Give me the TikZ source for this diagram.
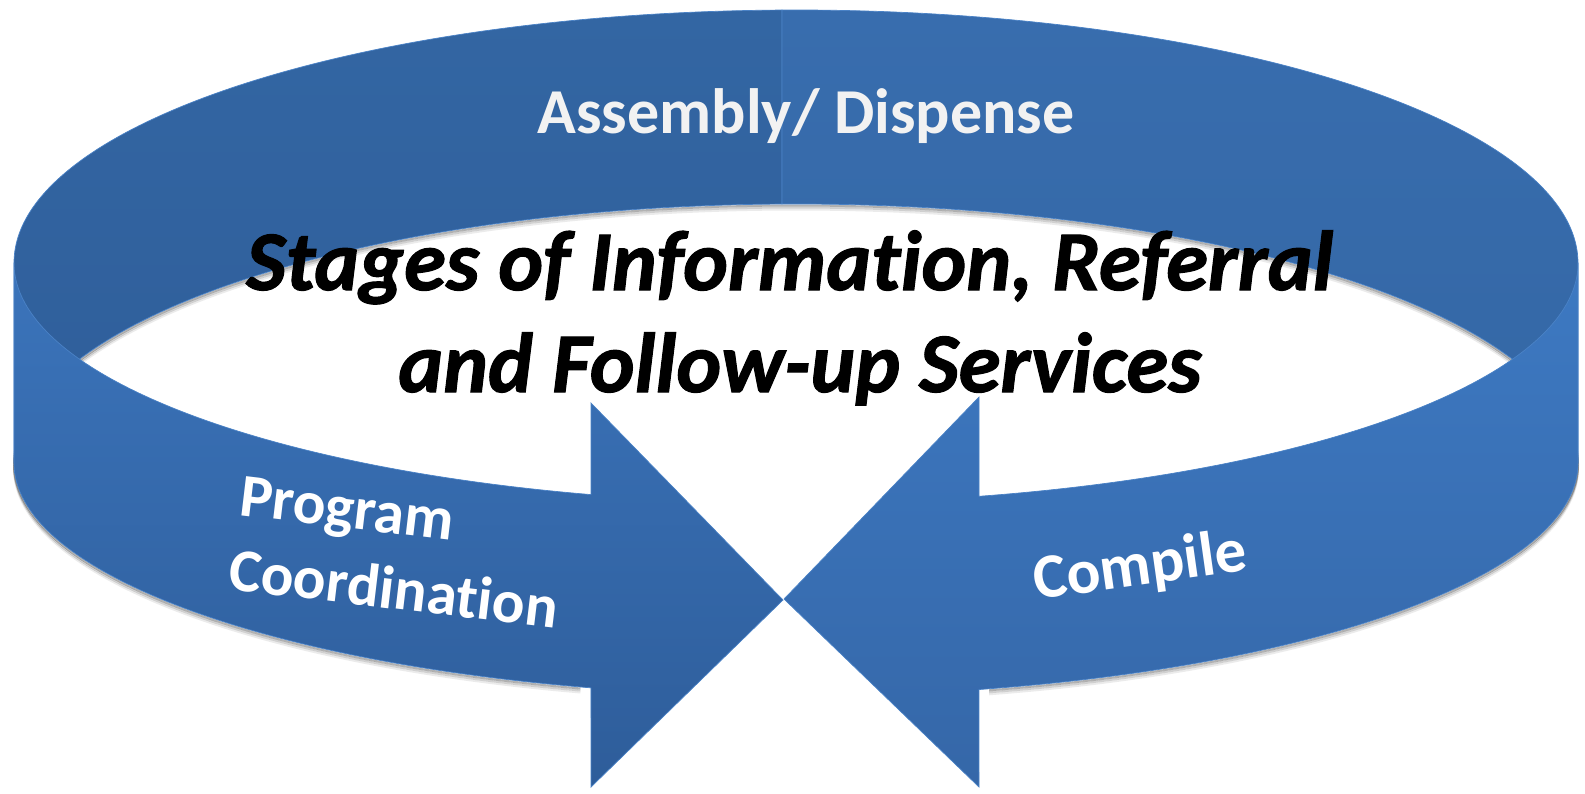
\documentclass[tikz,border=0pt]{standalone}
\usepackage{fontspec}
\setmainfont{Carlito}[Ligatures={NoCommon}]
\newfontfamily\ttlfont{Carlito}[Ligatures={NoCommon}, BoldItalicFeatures={FakeBold=1.3}]
\definecolor{backLt}{HTML}{3366A3}
\definecolor{backLb}{HTML}{2F5E9A}
\definecolor{backRt}{HTML}{386DAE}
\definecolor{backRb}{HTML}{3467A5}
\definecolor{frontLt}{HTML}{3B74BB}
\definecolor{frontLb}{HTML}{2E5D9A}
\definecolor{frontRt}{HTML}{3D79C2}
\definecolor{frontRb}{HTML}{3567A8}
\definecolor{edgeblue}{HTML}{4A82C6}
\definecolor{labelwhite}{HTML}{F2F2F2}
\begin{document}
\begin{tikzpicture}[x=1pt,y=1pt,
  wlabel/.style={text=white, font=\fontsize{61}{73}\selectfont\bfseries, inner sep=0pt},
  ttl/.style={font=\fontsize{85}{100}\selectfont\ttlfont\bfseries\itshape, inner sep=0pt},
  rim/.style={draw=edgeblue, line width=0.7pt},
  shadowline/.style={black, line width=2pt}]
\useasboundingbox (0,0) rectangle (1585,-793);

% soft shadows on the white interior
\foreach \d/\op in {1.5/0.30,3.5/0.18,5.5/0.08}{
  \draw[shadowline, opacity=\op] (14,{-463-\d}) arc[start angle=180, end angle=0, x radius=782, y radius=259];
  \draw[shadowline, opacity=\op] (14,{-463-\d}) arc[start angle=180, end angle=254, x radius=782, y radius=233];
  \draw[shadowline, opacity=\op] (1578,{-463-\d}) arc[start angle=360, end angle=284.3, x radius=782, y radius=233];
}

% back band, left and right halves (seen from inside)
\shadedraw[rim, top color=backLt, bottom color=backLb]
  (14,-263) arc[start angle=180, end angle=91.03, x radius=782, y radius=253]
  -- (782,-204.04) arc[start angle=91.03, end angle=180, x radius=782, y radius=259] -- cycle;
\shadedraw[rim, top color=backRt, bottom color=backRb]
  (781.94,-10.04) arc[start angle=91.03, end angle=0, x radius=782, y radius=253]
  -- (1578,-463) arc[start angle=0, end angle=91.03, x radius=782, y radius=259] -- cycle;

% front left arrow (Program Coordination)
\shadedraw[rim, top color=frontLt, bottom color=frontLb]
  (14,-263) -- (14,-463)
  arc[start angle=180, end angle=254.8, x radius=782, y radius=233]
  -- (591,-787) -- (783,-600) -- (591,-403) -- (591,-494.6)
  arc[start angle=254.8, end angle=180, x radius=782, y radius=240] -- cycle;

% front right arrow (Compile)
\shadedraw[rim, top color=frontRt, bottom color=frontRb]
  (1578,-263) -- (1578,-463)
  arc[start angle=360, end angle=283.53, x radius=782, y radius=233]
  -- (979,-787) -- (784,-599) -- (979,-397) -- (979,-496.3)
  arc[start angle=283.53, end angle=360, x radius=782, y radius=240] -- cycle;

% labels on the band
\node[wlabel, text=labelwhite, font=\fontsize{64}{76}\selectfont\bfseries, anchor=base] (assembly) at (806,-133) {Assembly/ Dispense};

\begin{scope}[shift={(238,-515)}, rotate=-6.8, transform shape]
  \node[wlabel, anchor=base west] (program) at (0,0) {Program};
  \node[wlabel, anchor=base west] (coordination) at (-2,-75) {Coordination};
\end{scope}

\begin{scope}[shift={(1036,-600)}, rotate=8, transform shape]
  \node[wlabel, font=\fontsize{63}{75}\selectfont\bfseries, anchor=base west] (compile) at (0,0) {Compile};
\end{scope}

% title
\node[ttl, anchor=base] (title1) at (790,-290) {Stages of Information, Referral};
\node[ttl, anchor=base] (title2) at (800,-392) {and Follow-up Services};
\end{tikzpicture}
\end{document}
